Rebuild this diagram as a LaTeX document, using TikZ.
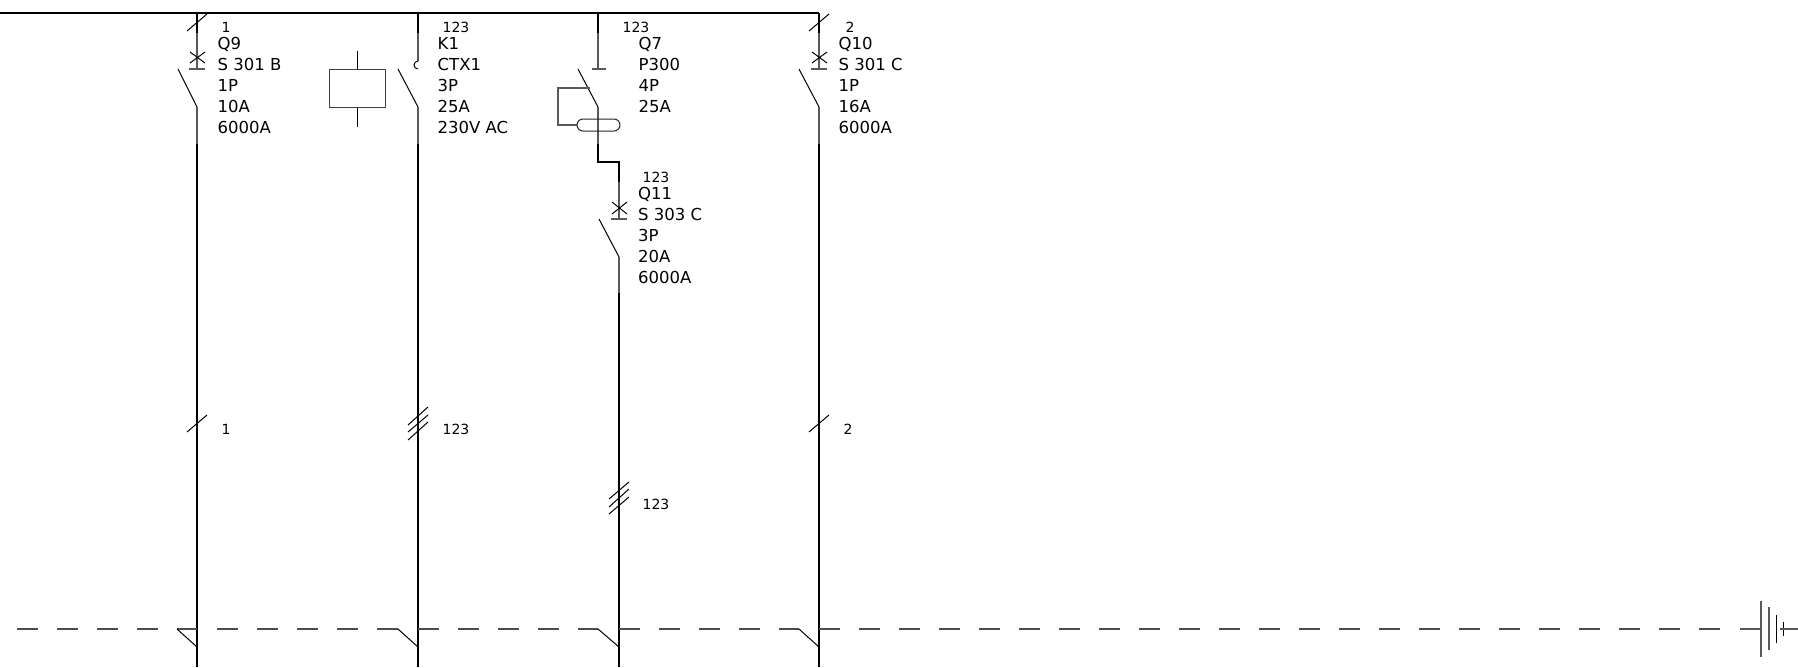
\documentclass[tikz,border=0pt]{standalone}
\usepackage{xcolor}
\usepackage{fontspec}
\setmainfont{DejaVu Sans}
\begin{document}
\begin{tikzpicture}[x=1pt,y=-1pt]
  \tikzstyle{wire}=[line width=1.4pt, black]
  \tikzstyle{lead}=[line width=1.1pt, black!65]
  \tikzstyle{blade}=[line width=1pt, black]
  \tikzstyle{earth}=[line width=1.1pt, black!70, dash pattern=on 20.7pt off 19.3pt]
  \tikzstyle{rating}=[anchor=north west, inner sep=0pt, align=left, font=\fontsize{16.5}{21}\selectfont]
  \tikzstyle{phase}=[inner sep=0pt, font=\fontsize{14}{14}\selectfont]
  \useasboundingbox (0,0) rectangle (1798,667);

  % bus and lower ends
  \coordinate (BusL) at (0,13);
  \coordinate (BusR) at (819,13);
  \draw[wire] (BusL) -- (BusR);
  \coordinate (Q9top) at (197,13);
  \coordinate (K1top) at (418,13);
  \coordinate (Q7top) at (598,13);
  \coordinate (Q10top) at (819,13);

  % Q9
  \draw[wire] (Q9top) -- (197,33);
  \draw[lead] (197,33) -- (197,69);
  \draw[blade] (187,31) -- (207,14);
  \draw[blade] (190,52) -- (205,63) (205,52) -- (190,63);
  \draw[lead] (189,69) -- (205,69);
  \draw[blade] (178,69) -- (197,107);
  \draw[lead] (197,107) -- (197,144);
  \draw[wire] (197,144) -- (197,667);
  \node[phase] (Q9phase) at (226,27) {1};
  \node[rating] (Q9text) at (217.5,37) {Q9\\S 301 B\\1P\\10A\\6000A};

  % K1
  \draw[wire] (K1top) -- (418,33);
  \draw[lead] (418,33) -- (418,61);
  \draw[blade] (418,61) arc (270:90:4);
  \draw[blade] (398,69) -- (418,107);
  \draw[lead] (418,107) -- (418,144);
  \draw[wire] (418,144) -- (418,667);
  \node[draw=black!75, line width=1pt, minimum width=56pt, minimum height=38pt, inner sep=0pt] (K1coil) at (357,88) {};
  \draw[blade] (K1coil.north) -- ++(0,-18);
  \draw[blade] (K1coil.south) -- ++(0,19);
  \node[phase] (K1phase) at (456,27) {123};
  \node[rating] (K1text) at (437.5,37) {K1\\CTX1\\3P\\25A\\230V AC};

  % Q7
  \draw[wire] (Q7top) -- (598,33);
  \draw[lead] (598,33) -- (598,69);
  \draw[lead] (592,69) -- (606,69);
  \draw[blade] (578,69) -- (598,107);
  \draw[lead] (598,107) -- (598,144);
  \draw[lead] (590,88) -- (558,88) -- (558,125) -- (577,125);
  \node[draw=black!85, line width=1pt, rounded corners=6pt, minimum width=43pt, minimum height=12pt, inner sep=0pt] (Q7trip) at (598.5,125) {};
  \node[phase] (Q7phase) at (636,27) {123};
  \node[rating] (Q7text) at (638.5,37) {Q7\\P300\\4P\\25A};

  % Q11
  \draw[wire] (598,144) -- (598,162) -- (619,162) -- (619,182);
  \draw[lead] (619,182) -- (619,219);
  \draw[blade] (612,202) -- (627,214) (627,202) -- (612,214);
  \draw[lead] (611,219) -- (627,219);
  \draw[blade] (599,219) -- (619,257);
  \draw[lead] (619,257) -- (619,293);
  \draw[wire] (619,293) -- (619,667);
  \node[phase] (Q11phase) at (656,177) {123};
  \node[rating] (Q11text) at (638,187) {Q11\\S 303 C\\3P\\20A\\6000A};

  % Q10
  \draw[wire] (Q10top) -- (819,33);
  \draw[lead] (819,33) -- (819,69);
  \draw[blade] (809,31) -- (829,14);
  \draw[blade] (812,52) -- (827,63) (827,52) -- (812,63);
  \draw[lead] (811,69) -- (827,69);
  \draw[blade] (799,69) -- (819,107);
  \draw[lead] (819,107) -- (819,144);
  \draw[wire] (819,144) -- (819,667);
  \node[phase] (Q10phase) at (850,27) {2};
  \node[rating] (Q10text) at (838.5,37) {Q10\\S 301 C\\1P\\16A\\6000A};

  % phase marks
  \draw[blade] (187,432) -- (207,415);
  \node[phase] (Mid1) at (226,429) {1};
  \draw[blade] (408,425) -- (428,407) (408,432) -- (428,415) (408,440) -- (428,422);
  \node[phase] (Mid2) at (456,429) {123};
  \draw[blade] (609,499) -- (629,482) (609,507) -- (629,489) (609,514) -- (629,497);
  \node[phase] (Mid3) at (656,504) {123};
  \draw[blade] (809,432) -- (829,415);
  \node[phase] (Mid4) at (848,429) {2};

  % earth line and battery
  \draw[earth] (17,629) -- (197,629);
  \draw[earth] (217,629) -- (398,629);
  \draw[earth] (418,629) -- (598,629);
  \draw[earth] (619,629) -- (799,629);
  \draw[earth] (819,629) -- (1720,629);
  \draw[lead] (1740,629) -- (1761,629);
  \draw[blade] (177,629) -- (197,647);
  \draw[blade] (398,629) -- (418,647);
  \draw[blade] (598,629) -- (619,647);
  \draw[blade] (799,629) -- (819,647);
  \draw[lead] (1761,601) -- (1761,657);
  \draw[lead] (1769,607) -- (1769,650);
  \draw[blade] (1776,615) -- (1776,643);
  \draw[blade] (1783,622) -- (1783,636);
  \draw[lead] (1780,629) -- (1798,629);
\end{tikzpicture}
\end{document}
